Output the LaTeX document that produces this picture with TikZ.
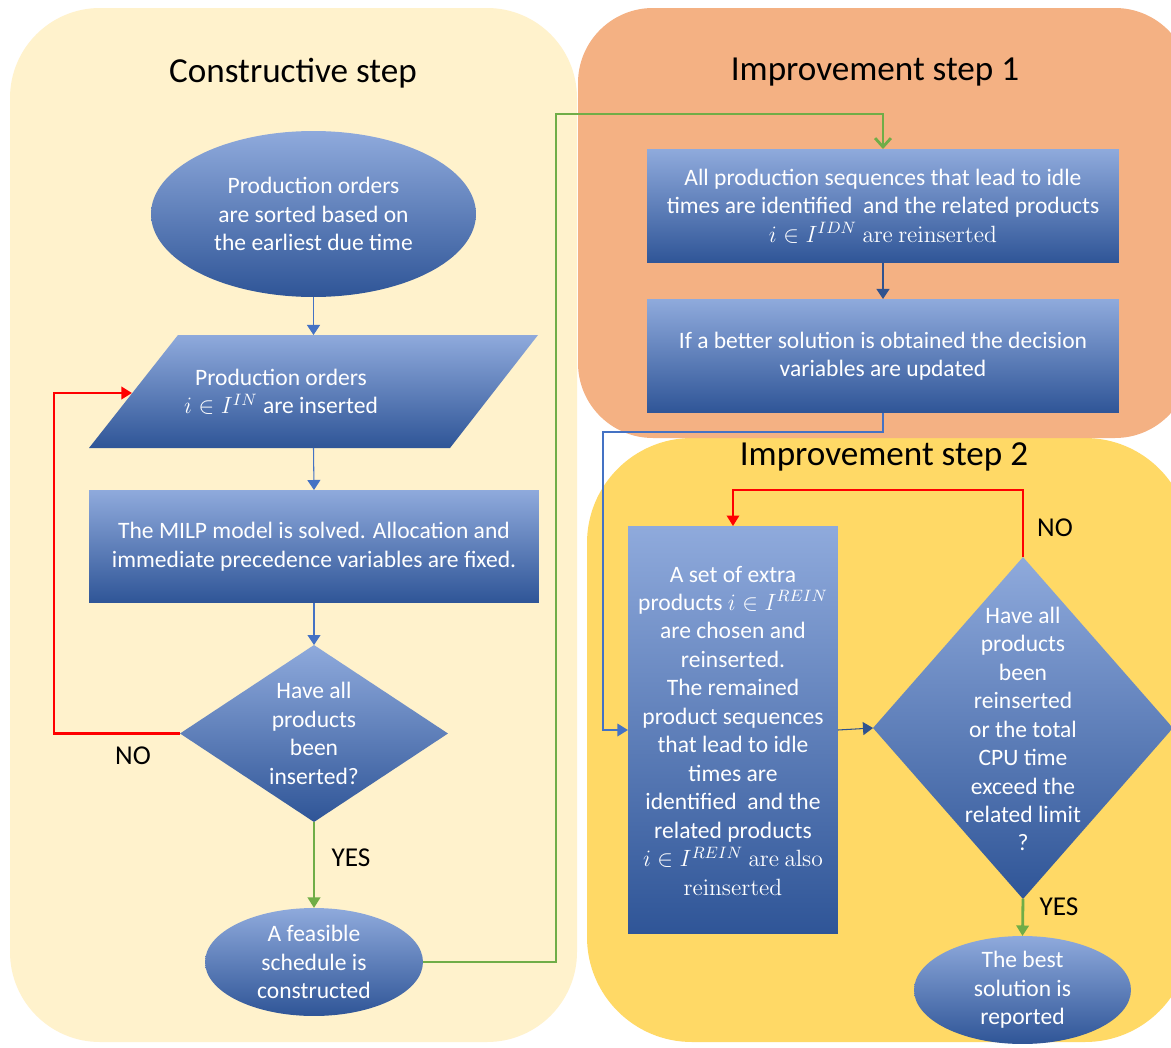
\RequirePackage{fix-cm}
\documentclass[tikz,border=0pt]{standalone}
\usepackage[no-math]{fontspec}
\setmainfont{Carlito}
\usetikzlibrary{shapes.geometric,arrows.meta}

\definecolor{panelCons}{HTML}{FFF2CC}
\definecolor{panelImpA}{HTML}{F4B183}
\definecolor{panelImpB}{HTML}{FFD966}
\definecolor{fillTop}{HTML}{8FAADC}
\definecolor{fillMid}{HTML}{4472C4}
\definecolor{fillBot}{HTML}{2F5597}
\definecolor{lineBlue}{HTML}{4472C4}
\definecolor{lineDark}{HTML}{2F528F}
\definecolor{lineRed}{HTML}{FF0000}
\definecolor{lineGreen}{HTML}{70AD47}

\newcommand\flowfont{\fontsize{13.4}{16.2}\selectfont}
\newcommand\branchfont{\fontsize{15.5}{18}\selectfont}
\newcommand\headfont{\fontsize{20}{24}\selectfont}

\begin{document}
\begin{tikzpicture}[x=0.02cm,y=-0.02cm,
  shade3/.style={top color=fillTop, middle color=fillMid, bottom color=fillBot, draw=none},
  shapenode/.style={shade3, inner sep=0pt, outer sep=0pt},
  flowtext/.style={text=white, font=\flowfont, align=center, inner sep=0pt},
  lbl/.style={text=black, font=\branchfont, inner sep=0pt},
  head/.style={text=black, font=\headfont, inner sep=0pt},
  thinarrow/.style={draw=lineBlue, line width=0.6pt, -{Triangle[width=7.4pt,length=5.7pt]}},
  darkarrow/.style={draw=lineDark, line width=0.6pt, -{Triangle[width=7.4pt,length=5.7pt]}},
  loopback/.style={draw=lineRed, line width=1.4pt, -{Triangle[width=7pt,length=6pt]}},
  forward/.style={draw=lineGreen, line width=1.6pt, -{Triangle[width=7pt,length=6pt]}},
  forwardopen/.style={draw=lineGreen, line width=1.6pt, -{Straight Barb[width=9pt,length=5pt]}},
  handover/.style={draw=lineBlue, line width=1.3pt, -{Triangle[width=7pt,length=6pt]}}
]
% canvas
\fill[white] (0,0) rectangle (1171,1048);
\useasboundingbox (0,0) rectangle (1171,1048);

% phase panels
\fill[panelCons, rounded corners=1.8cm] (10,8) rectangle (577,1042);
\fill[panelImpB, rounded corners=2.1cm] (587,438) rectangle (1190,1042);
\fill[panelImpA, rounded corners=1.5cm] (578,8) rectangle (1190,438);

\node[head] (tcons) at (293,73) {Constructive step};
\node[head] (timpa) at (875,72) {Improvement step 1};
\node[head] (timpb) at (884,457) {Improvement step 2};

% ---- constructive step ----
\node[shapenode, ellipse, minimum width=6.5cm, minimum height=3.32cm] (sort) at (313.5,214) {};
\node[flowtext] at (sort) {Production orders\\are sorted based on\\the earliest due time};

\shade[shade3] (178,335) -- (538,335) -- (450,448) -- (89,448) -- cycle;
\node[inner sep=0pt, outer sep=0pt, minimum width=8.98cm, minimum height=2.26cm] (ins) at (313.5,391.5) {};
\coordinate (insleft) at (132,393);
\node[flowtext] at (281,392) {Production orders\\$i\in I^{IN}$ are inserted};

\node[shapenode, rectangle, minimum width=9cm, minimum height=2.26cm] (milp) at (314,546.5) {};
\node[flowtext] at (milp) {The MILP model is solved. Allocation and\\immediate precedence variables are fixed.};

\node[shapenode, diamond, minimum width=5.36cm, minimum height=3.54cm] (allin) at (314,733.5) {};
\node[flowtext] at (allin) {Have all\\products\\been\\inserted?};

\node[shapenode, ellipse, minimum width=4.36cm, minimum height=2.16cm] (feas) at (314,962) {};
\node[flowtext] at (feas) {A feasible\\schedule is\\constructed};

% ---- improvement step 1 ----
\node[shapenode, rectangle, minimum width=9.44cm, minimum height=2.28cm] (idle) at (883,206) {};
\node[flowtext] at (idle) {All production sequences that lead to idle\\times are identified\ \ and the related products\\$i\in I^{IDN}$ $\mathrm{are\ reinserted}$};

\node[shapenode, rectangle, minimum width=9.44cm, minimum height=2.28cm] (upd) at (883,356) {};
\node[flowtext] at (upd) {If a better solution is obtained the decision\\variables are updated};

% ---- improvement step 2 ----
\node[shapenode, rectangle, minimum width=4.2cm, minimum height=8.16cm] (extra) at (733,730) {};
\node[flowtext] at (733,730.5) {A set of extra\\products $i\in I^{REIN}$\\are chosen and\\reinserted.\\The remained\\product sequences\\that lead to idle\\times are\\identified\ \ and the\\related products\\$i\in I^{REIN}$ $\mathrm{are\ also}$\\$\mathrm{reinserted}$};

\node[shapenode, diamond, minimum width=6cm, minimum height=6.84cm] (allre) at (1023,728) {};
\node[flowtext] at (1023,729) {Have all\\products\\been\\reinserted\\or the total\\CPU time\\exceed the\\related limit\\?};

\node[shapenode, ellipse, minimum width=4.34cm, minimum height=2.16cm] (best) at (1022.5,990) {};
\node[flowtext] at (best) {The best\\solution is\\reported};

% ---- connectors ----
\draw[thinarrow] (sort.south) -- (ins.north);
\draw[thinarrow] (ins.south) -- (milp.north);
\draw[thinarrow] (milp.south) -- (allin.north);
\draw[loopback] (allin.west) -- (54,733.5) |- (insleft);
\draw[forward] (allin.south) -- (feas.north);
\draw[forwardopen] (feas.east) -| (556,114) -| (idle.north);
\draw[darkarrow] (idle.south) -- (upd.north);
\draw[handover] (upd.south) |- (603,432) |- (extra.west);
\draw[darkarrow] (extra.east) -- (allre.west);
\draw[loopback] (allre.north) |- (733,490) -- (extra.north);
\draw[forward] (allre.south) -- (best.north);

% ---- branch labels ----
\node[lbl] (noA) at (133,756) {NO};
\node[lbl] (yesA) at (351,858) {YES};
\node[lbl] (noB) at (1055,528) {NO};
\node[lbl] (yesB) at (1059,907) {YES};
\end{tikzpicture}
\end{document}
